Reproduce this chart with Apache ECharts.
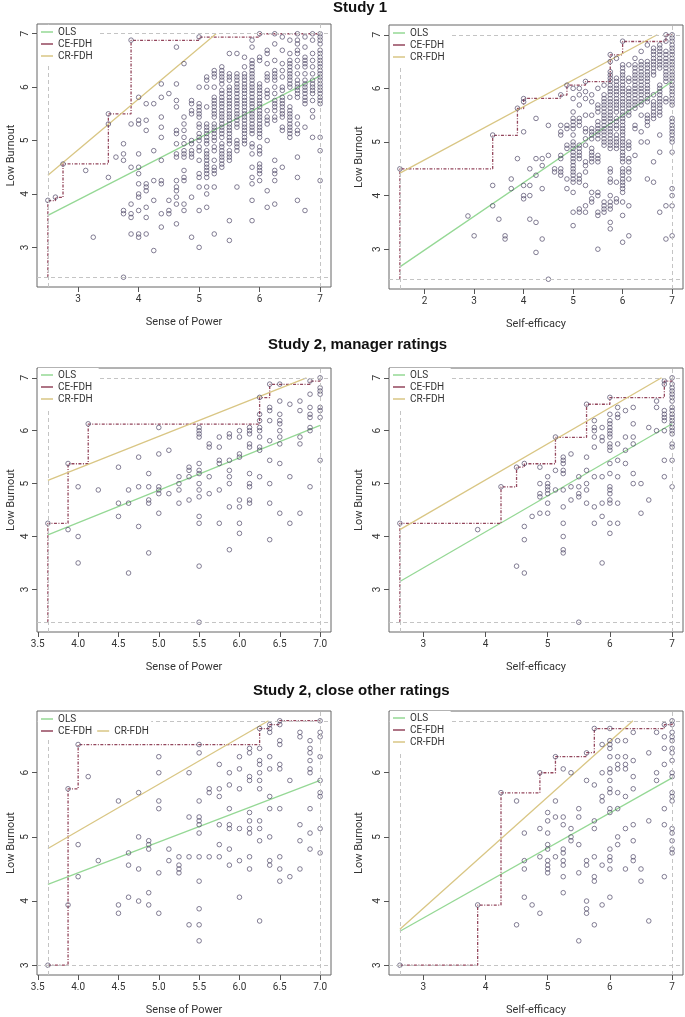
<!DOCTYPE html>
<html><head><meta charset="utf-8">
<script src="https://cdn.jsdelivr.net/npm/echarts@6/dist/echarts.min.js"></script>
<style>html,body{margin:0;padding:0;background:#fff}#c{width:685px;height:1017px}</style>
</head><body><div id="c"></div>
<script>
// ---------- data (columns: [x, [y values]]) ----------
const study1PowerCols = [
[2.5,[3.88]],[2.625,[3.94]],[2.75,[4.56]],[3.125,[4.44]],[3.25,[3.19]],
[3.5,[5.5,5.31,4.31]],[3.625,[4.69]],
[3.75,[4.94,4.75,4.63,3.69,3.63,2.44]],
[3.875,[6.88,5.31,4.5,3.81,3.63,3.56,3.25]],
[4,[5.81,5.38,5.31,4.75,4.5,4.38,4.19,4.0,3.94,3.69,3.25,3.19]],
[4.125,[5.69,5.38,5.19,4.19,4.13,4.06,3.75,3.56,3.25]],
[4.25,[5.69,4.81,4.25,3.88,2.94]],
[4.375,[6.06,5.81,5.44,5.25,5.06,4.63,4.25,4.19,3.63,3.38]],
[4.5,[5.88,3.88,3.69,3.63]],
[4.625,[6.75,6.06,5.75,5.63,5.19,5.13,4.94,4.75,4.69,4.25,4.13,4.06,3.94,3.81,3.44]],
[4.75,[6.44,5.44,5.31,5.19,5.06,4.94,4.81,4.75,4.69,4.44,4.31,4.25,3.81,3.69]],
[4.875,[5.75,5.69,5.56,5.5,5.0,4.94,4.81,4.75,4.69,3.94,3.19]],
[5,[6.94,6.0,5.69,5.63,5.56,5.5,5.44,5.31,5.25,5.13,5.06,5.0,4.88,4.81,4.63,4.38,4.31,4.13,3.69,3.0]],
[5.125,[6.19,6.13,6.0,5.63,5.31,5.25,5.19,5.13,5.06,5.0,4.94,4.81,4.75,4.69,4.63,4.56,4.5,4.44,4.38,4.31,4.13,4.0,3.75]],
[5.25,[6.31,6.25,6.19,6.0,5.81,5.75,5.69,5.63,5.56,5.5,5.44,5.31,5.25,5.19,5.13,5.06,5.0,4.88,4.81,4.63,4.5,4.44,4.38,4.13,3.25]],
[5.375,[6.38,6.31,6.25,6.19,6.13,6.06,5.94,5.88,5.81,5.75,5.69,5.63,5.56,5.5,5.44,5.38,5.31,5.25,5.19,5.13,5.06,4.94,4.88,4.81,4.75,4.69,4.63,4.56,4.5]],
[5.5,[6.63,6.25,6.19,6.13,6.0,5.94,5.88,5.81,5.75,5.69,5.63,5.56,5.5,5.44,5.38,5.31,5.25,5.19,5.13,5.06,5.0,4.94,4.81,4.75,4.69,4.63,3.5,3.13]],
[5.625,[6.63,6.25,6.19,6.13,6.06,6.0,5.94,5.88,5.81,5.75,5.69,5.63,5.56,5.5,5.44,5.38,5.31,5.25,5.0,4.94,4.88,4.81,4.13]],
[5.75,[6.56,6.38,6.25,6.19,6.13,6.06,6.0,5.94,5.88,5.81,5.75,5.69,5.63,5.56,5.5,5.44,5.38,5.31,5.25,5.19,5.13,5.06,5.0,4.94]],
[5.875,[6.88,6.75,6.5,6.44,6.38,6.31,6.25,6.19,6.13,6.06,6.0,5.94,5.88,5.81,5.75,5.69,5.63,5.56,5.5,5.44,5.38,5.31,5.25,5.19,5.13,4.94,4.88,4.75,4.5,4.31,4.19,3.88,3.5]],
[6,[7.0,6.56,6.5,6.06,6.0,5.94,5.88,5.81,5.75,5.69,5.63,5.56,5.5,5.44,5.38,5.31,5.25,5.19,5.13,5.06,4.88,4.81,4.75,4.56,4.5,4.44,4.38,4.25]],
[6.125,[6.69,6.63,6.44,6.25,6.19,6.13,5.94,5.88,5.81,5.56,5.44,5.38,5.31,5.0,4.06,3.75]],
[6.25,[7.0,6.81,6.5,6.31,6.25,6.19,6.13,6.0,5.88,5.75,5.69,5.63,5.56,5.44,5.38,4.63,4.44,4.38,4.25,3.81]],
[6.375,[6.94,6.69,6.44,6.31,6.19,6.0,5.94,5.81,5.75,5.69,5.63,5.56,5.5,5.44,5.25,5.19,4.5]],
[6.5,[6.88,6.63,6.5,6.44,6.38,6.31,6.25,6.19,6.13,6.06,6.0,5.81,5.63,5.56,5.5,5.44,5.38,5.31,5.25,5.19,5.13,5.06]],
[6.625,[7.0,6.88,6.81,6.69,6.63,6.5,6.38,6.25,6.13,6.06,6.0,5.94,5.88,5.81,5.44,5.31,5.19,5.13,4.69,4.31,3.88]],
[6.75,[6.94,6.75,6.56,6.5,6.44,6.38,6.25,6.13,6.06,6.0,5.94,5.88,5.81,5.75,5.69,5.25,3.69]],
[6.875,[7.0,6.88,6.63,6.5,6.38,6.25,6.13,6.06,6.0,5.94,5.88,5.75,5.56,5.44,5.06]],
[7,[7.0,6.94,6.88,6.81,6.69,6.63,6.56,6.5,6.44,6.38,6.31,6.25,6.19,6.13,6.06,6.0,5.94,5.88,5.81,5.75,5.69,5.06,4.81,4.25]]
];
const study1EfficacyCols = [
[1.5,[4.5]],[2.875,[3.62]],[3,[3.25]],[3.375,[5.13,4.19,3.81]],[3.5,[3.56]],[3.625,[3.25,3.19]],
[3.75,[4.31,4.13]],[3.875,[5.63,4.69]],[4,[5.81,5.75,5.19,4.19,4.0,3.94]],
[4.125,[4.5,4.19,4.0,3.56]],[4.25,[5.44,4.69,4.38,3.5,2.94]],[4.375,[4.69,4.56,4.13,3.19]],
[4.5,[5.31,4.75,2.44]],[4.625,[4.5,4.44]],
[4.75,[5.88,5.31,5.19,5.13,4.75,4.69,4.5,4.44,4.38]],
[4.875,[6.06,5.31,5.25,4.94,4.88,4.31,4.13]],
[5,[6.0,5.81,5.56,5.44,5.38,5.31,5.25,5.13,5.0,4.94,4.88,4.81,4.75,4.69,4.63,4.56,4.5,4.44,4.38,4.31,4.25,4.06,3.69,3.44]],
[5.125,[6.0,5.88,5.69,5.44,5.38,5.31,4.94,4.88,4.81,4.75,4.69,4.38,4.31,4.25,3.75,3.69]],
[5.25,[6.13,5.94,5.81,5.5,5.25,5.19,5.06,4.94,4.63,4.56,4.44,4.19,3.81,3.69]],
[5.375,[5.88,5.75,5.5,5.25,5.19,5.13,5.06,4.88,4.81,4.75,4.69,4.63,4.06,3.94,3.88]],
[5.5,[6.0,5.69,5.63,5.56,5.38,5.31,5.25,5.19,5.13,5.06,4.75,4.69,4.63,4.06,4.0,3.69,3.63,3.0]],
[5.625,[6.06,5.88,5.81,5.75,5.69,5.63,5.56,5.5,5.44,5.38,5.31,5.25,5.19,5.13,5.06,5.0,4.94,3.88,3.81,3.75,3.69]],
[5.75,[6.63,6.5,6.31,6.25,6.19,6.13,6.06,6.0,5.94,5.88,5.81,5.75,5.69,5.63,5.56,5.5,5.44,5.38,5.31,5.25,5.19,5.13,5.06,5.0,4.94,4.88,4.5,4.44,4.31,4.25,4.0,3.88,3.81,3.75,3.5,3.38]],
[5.875,[6.56,6.19,6.13,6.06,6.0,5.94,5.88,5.81,5.75,5.69,5.63,5.56,5.44,5.38,5.31,5.25,5.13,5.06,5.0,4.94,4.88,4.25,3.94,3.88]],
[6,[6.88,6.44,6.38,6.31,6.25,6.19,6.13,6.06,6.0,5.94,5.88,5.81,5.75,5.69,5.63,5.56,5.5,5.44,5.38,5.31,5.25,5.19,5.13,5.06,5.0,4.94,4.88,4.81,4.75,4.69,4.63,4.5,4.44,4.38,4.31,4.25,4.19,4.13,4.06,3.88,3.63,3.13]],
[6.125,[6.44,6.19,6.13,6.0,5.94,5.88,5.81,5.75,5.69,5.63,5.56,5.5,5.0,4.94,4.88,4.69,4.63,4.5,4.44,4.31,3.81,3.25]],
[6.25,[6.56,6.44,6.38,6.31,6.25,6.19,6.13,6.06,6.0,5.94,5.88,5.81,5.75,5.69,5.63,5.31,5.25,4.75]],
[6.375,[6.69,6.5,6.44,6.38,6.31,6.25,6.19,6.13,6.06,6.0,5.94,5.88,5.81,5.75,5.69,5.5,5.19,5.0]],
[6.5,[6.81,6.5,6.44,6.38,6.31,6.25,6.19,6.13,6.06,6.0,5.94,5.88,5.81,5.75,5.5,5.44,5.38,5.31,5.0,4.31]],
[6.625,[6.75,6.69,6.63,6.56,6.5,6.44,6.38,6.31,6.25,5.88,5.75,5.69,5.63,5.56,5.5,5.44,4.63,4.25]],
[6.75,[6.81,6.75,6.69,6.63,6.56,6.5,6.44,6.38,6.06,6.0,5.94,5.88,5.81,5.75,5.69,5.63,5.56,5.5,5.13,4.81,3.69]],
[6.875,[7.0,6.88,6.69,6.63,6.56,6.5,6.44,6.38,6.31,6.25,6.19,6.13,5.81,5.75,3.81,3.19]],
[7,[7.0,6.94,6.88,6.81,6.75,6.69,6.63,6.56,6.5,6.44,6.38,6.31,6.25,6.19,6.13,6.06,6.0,5.94,5.88,5.81,5.75,5.69,5.44,5.38,5.31,5.25,5.19,5.13,5.06,5.0,4.81,4.13,4.0,3.81,3.25]]
];
const study2mPowerCols = [
[3.625,[4.25]],[3.875,[5.38,4.13]],[4,[4.94,4.0,3.5]],[4.125,[6.13]],[4.25,[4.88]],
[4.5,[5.31,4.63,4.38]],[4.625,[4.88,4.63,3.31]],[4.75,[5.5,4.94,4.19]],
[4.875,[5.19,4.94,4.69,4.63,3.69]],[5,[6.06,5.56,4.94,4.88,4.81,4.44]],[5.125,[5.63,4.81]],
[5.25,[5.13,5.0,4.88,4.63]],[5.375,[5.31,5.25,5.13,4.69]],
[5.5,[6.06,6.0,5.94,5.88,5.38,5.25,5.19,5.0,4.88,4.75,4.38,4.25,3.44,2.38]],
[5.625,[5.75,5.69,5.13,4.81]],[5.75,[5.88,5.69,5.44,5.38,4.88,4.25]],
[5.875,[5.94,5.88,5.44,5.25,5.13,5.0,4.56,3.75]],
[6,[6.0,5.88,5.56,5.5,4.69,4.56,4.25,4.06]],
[6.125,[6.06,6.0,5.94,5.75,5.69,5.19,5.0,4.94,4.69,4.63]],
[6.25,[6.63,6.31,6.19,6.06,6.0,5.88,5.69,5.63,5.13]],
[6.375,[6.88,6.44,6.38,6.19,5.81,5.44,5.0,4.63,3.94]],
[6.5,[6.88,6.56,6.31,6.19,6.13,6.0,5.88,5.75,5.38,4.44]],
[6.625,[6.5,5.13,4.25]],[6.75,[6.56,6.38,5.88,5.75,4.44]],
[6.875,[6.94,6.69,6.44,6.31,6.25,6.06,6.0,4.94]],
[7,[7.0,6.81,6.75,6.69,6.44,6.38,6.25,5.44]]
];
const study2mEfficacyCols = [
[2.625,[4.25]],[3.875,[4.13]],[4.25,[4.94]],[4.5,[5.31,3.44]],[4.625,[5.38,4.19,3.94,3.31]],
[4.75,[4.38]],[4.875,[5.31,5.0,4.81,4.75,4.44]],[5,[5.13,5.0,4.94,4.88,4.81,4.63,4.44]],
[5.125,[5.88,5.25,4.88]],[5.25,[5.5,5.44,5.38,5.25,5.19,4.88,4.56,4.25,4.0,3.75,3.69]],
[5.375,[5.56,4.94,4.69]],[5.5,[5.13,4.94,4.81,4.75,2.38]],
[5.625,[6.5,5.5,5.25,5.0,4.88,4.63]],[5.75,[6.19,6.06,6.0,5.88,5.69,5.13,4.56,4.25]],
[5.875,[6.06,5.88,5.81,5.13,4.63,4.38,3.5]],
[6,[6.63,6.31,6.19,6.13,6.06,6.0,5.94,5.88,5.75,5.69,5.63,5.38,5.19,4.94,4.88,4.81,4.69,4.63,4.25,4.06]],
[6.125,[6.44,6.31,6.25,5.75,5.44,5.13,4.63,4.25]],[6.25,[6.38,5.88,5.63,5.38]],
[6.375,[6.44,6.13,5.88,5.75,5.19,5.0]],[6.5,[5.0,4.44]],[6.625,[6.06,4.69]],
[6.75,[6.56,6.44,6.0]],[6.875,[6.94,6.88,6.38,6.31,6.25,6.19,6.0,5.44,5.13]],
[7,[7.0,6.88,6.81,6.75,6.69,6.63,6.56,6.44,6.38,6.31,6.25,6.19,6.13,6.06,6.0,5.94,5.75,5.69,5.44,4.94]]
];
const study2cPowerCols = [
[3.625,[3.0]],[3.875,[5.75,3.94]],[4,[6.44,4.88,4.38]],[4.125,[5.94]],[4.25,[4.63]],
[4.5,[5.56,3.94,3.81]],[4.625,[4.75,4.56,4.06]],[4.75,[5.69,5.0,4.5,4.0]],
[4.875,[4.94,4.88,4.81,4.13,3.94]],[5,[6.25,6.0,5.56,5.44,4.44,3.81]],[5.125,[4.81,4.63]],
[5.25,[4.69,4.56,4.5,4.44]],[5.375,[6.0,5.31,4.69,3.63]],
[5.5,[6.44,6.31,5.56,5.31,5.25,5.19,5.06,4.69,4.31,3.88,3.63,3.38]],
[5.625,[5.75,5.69,4.69]],[5.75,[6.13,5.75,5.63,5.19,4.88,4.69]],
[5.875,[6.0,5.81,5.44,5.19,5.13,4.81,4.56]],[6,[6.25,6.06,5.75,5.13,4.63,4.06]],
[6.125,[6.38,6.31,5.94,5.88,5.38,5.25,5.13,5.06,4.69,4.5]],
[6.25,[6.69,6.38,6.19,6.13,6.0,5.88,5.75,5.25,5.13,4.94,3.69]],
[6.375,[6.75,6.69,6.63,6.25,6.06,5.63,5.44,5.0,4.63,4.56]],
[6.5,[6.81,6.75,6.5,6.44,6.13,6.06,5.44,4.69,4.5,4.31]],
[6.625,[5.88,4.38]],[6.75,[6.63,6.56,5.19,4.94,4.5]],
[6.875,[6.5,6.38,6.31,6.19,6.06,6.0,5.44,5.06,4.81]],
[7,[6.81,6.63,6.56,6.25,5.88,5.69,5.63,5.13,4.75]]
];
const study2cEfficacyCols = [
[2.625,[3.0]],[3.875,[3.94]],[4.25,[5.69]],[4.5,[5.56,3.63]],[4.625,[5.06,4.63,4.5,4.06]],
[4.75,[3.94]],[4.875,[6.0,5.13,4.69,3.81]],
[5,[5.38,5.25,5.06,4.88,4.81,4.63,4.56,4.5,4.44]],[5.125,[6.25,5.56,5.31,4.69]],
[5.25,[6.06,5.31,5.19,4.81,4.75,4.63,4.56,4.38,4.13]],[5.375,[6.0,5.13,5.0,4.94]],
[5.5,[5.44,5.31,4.88,4.44,3.38]],[5.625,[6.31,5.88,4.63,4.56,4.0,3.88,3.81]],
[5.75,[6.69,5.81,5.25,5.13,4.69,4.38,4.31,3.63]],[5.875,[6.44,6.0,5.63,5.56,4.56,3.94]],
[6,[6.69,6.5,6.44,6.38,6.25,6.06,6.0,5.88,5.75,5.69,5.44,5.38,4.81,4.69,4.63,4.5,4.06]],
[6.125,[6.5,6.25,6.13,6.06,5.69,5.44,5.0,4.88]],[6.25,[6.5,6.25,6.13,6.06,5.63,5.13,4.5]],
[6.375,[6.63,6.19,5.94,5.75,5.19,4.94,4.69,4.63]],[6.5,[4.5,4.31]],[6.625,[6.31,5.25,3.69]],
[6.75,[6.63,6.0,5.88]],[6.875,[6.75,6.56,6.38,6.13,5.44,5.19,4.38]],
[7,[6.81,6.75,6.63,6.56,6.5,6.38,6.31,6.19,6.0,5.94,5.69,5.63,5.56,5.13,5.06,4.94,4.81,4.75]]
];
// ceiling peers (CE-FDH step line)
const ceStudy1Power = [[2.5,3.875],[2.625,3.9375],[2.75,4.5625],[3.5,5.5],[3.875,6.875],[5,6.9375],[6,7],[7,7]];
const ceStudy1Efficacy = [[1.5,4.5],[3.375,5.125],[3.875,5.625],[4,5.8125],[4.75,5.875],[4.875,6.0625],[5.25,6.125],[5.75,6.625],[6,6.875],[6.875,7],[7,7]];
const ceStudy2mPower = [[3.625,4.25],[3.875,5.375],[4.125,6.125],[6.25,6.625],[6.375,6.875],[6.875,6.9375],[7,7]];
const ceStudy2mEfficacy = [[2.625,4.25],[4.25,4.9375],[4.5,5.3125],[4.625,5.375],[5.125,5.875],[5.625,6.5],[6,6.625],[6.875,6.9375],[7,7]];
const ceStudy2cPower = [[3.625,3],[3.875,5.75],[4,6.4375],[6.25,6.6875],[6.375,6.75],[6.5,6.8125],[7,6.8125]];
const ceStudy2cEfficacy = [[2.625,3],[3.875,3.9375],[4.25,5.6875],[4.875,6],[5.125,6.25],[5.625,6.3125],[5.75,6.6875],[6.875,6.75],[7,6.8125]];
// OLS line endpoints
const olsStudy1Power = [[2.5,3.6],[7,6.21]];
const olsStudy1Efficacy = [[1.5,2.67],[7,6.13]];
const olsStudy2mPower = [[3.625,4.03],[7,6.1]];
const olsStudy2mEfficacy = [[2.625,3.15],[7,6.13]];
const olsStudy2cPower = [[3.625,4.26],[7,5.88]];
const olsStudy2cEfficacy = [[2.625,3.53],[7,5.92]];
// CR-FDH line endpoints
const crStudy1Power = [[2.5,4.35],[5.28,7.0]];
const crStudy1Efficacy = [[1.5,4.42],[6.7,7.0]];
const crStudy2mPower = [[3.625,5.06],[6.83,7.0]];
const crStudy2mEfficacy = [[2.625,4.13],[6.83,7.0]];
const crStudy2cPower = [[3.625,4.82],[6.36,6.81]];
const crStudy2cEfficacy = [[2.625,3.56],[6.37,6.81]];
// tick labels
const xTicksInt = [3,4,5,6,7];
const xTicksS1Eff = [2,3,4,5,6,7];
const xTicksHalf = [3.5,4.0,4.5,5.0,5.5,6.0,6.5,7.0];
const yTicks = [3,4,5,6,7];
const yTicksClose = [3,4,5,6];
const titles = ['Study 1','Study 2, manager ratings','Study 2, close other ratings'];
const xNames = ['Sense of Power','Self-efficacy'];
const yName = 'Low Burnout';
const legendNames = ['OLS','CE-FDH','CR-FDH'];

// ---------- chart ----------
const FONT = 'Roboto, "Liberation Sans", Arial, sans-serif';
const flat = cols => { const out=[]; cols.forEach(c => c[1].forEach(y => out.push([c[0], y]))); return out; };
const panels = [
 {cols:study1PowerCols, ce:ceStudy1Power, ols:olsStudy1Power, cr:crStudy1Power, xt:xTicksInt, yt:yTicks, xName:xNames[0], dec:0, grid:{left:37,top:24,width:294,height:263}, right:false},
 {cols:study1EfficacyCols, ce:ceStudy1Efficacy, ols:olsStudy1Efficacy, cr:crStudy1Efficacy, xt:xTicksS1Eff, yt:yTicks, xName:xNames[1], dec:0, grid:{left:389,top:25,width:294,height:264}, right:true},
 {cols:study2mPowerCols, ce:ceStudy2mPower, ols:olsStudy2mPower, cr:crStudy2mPower, xt:xTicksHalf, yt:yTicks, xName:xNames[0], dec:1, grid:{left:37,top:368,width:294,height:264}, right:false},
 {cols:study2mEfficacyCols, ce:ceStudy2mEfficacy, ols:olsStudy2mEfficacy, cr:crStudy2mEfficacy, xt:xTicksInt, yt:yTicks, xName:xNames[1], dec:0, grid:{left:389,top:368,width:294,height:264}, right:true},
 {cols:study2cPowerCols, ce:ceStudy2cPower, ols:olsStudy2cPower, cr:crStudy2cPower, xt:xTicksHalf, yt:yTicksClose, xName:xNames[0], dec:1, grid:{left:37,top:711,width:294,height:264}, right:false},
 {cols:study2cEfficacyCols, ce:ceStudy2cEfficacy, ols:olsStudy2cEfficacy, cr:crStudy2cEfficacy, xt:xTicksInt, yt:yTicksClose, xName:xNames[1], dec:0, grid:{left:389,top:711,width:294,height:264}, right:true}
];

const COL = {ols:'#95d895', ce:'#93465c', cr:'#d9c684', pt:'#544d6b'};
const grids=[], xAxes=[], yAxes=[], series=[], legends=[];
const axisCommon = {
  type:'value', splitLine:{show:false}, axisLine:{show:false},
  axisTick:{show:true, inside:false, length:5, lineStyle:{color:'#555', width:1}}
};
panels.forEach((p,i) => {
  const pts = flat(p.cols);
  const xs = pts.map(d=>d[0]), ys = pts.map(d=>d[1]);
  const xmin=Math.min(...xs), xmax=Math.max(...xs), ymin=Math.min(...ys), ymax=Math.max(...ys);
  const xp=(xmax-xmin)*0.04, yp=(ymax-ymin)*0.04;
  grids.push(Object.assign({show:true, borderColor:'#666', borderWidth:1, backgroundColor:'#fff'}, p.grid));
  xAxes.push(Object.assign({}, axisCommon, {
    gridIndex:i, min:xmin-xp, max:xmax+xp,
    axisTick:Object.assign({}, axisCommon.axisTick, {customValues:p.xt}),
    axisLabel:{customValues:p.xt, margin:7, fontSize:10, color:'#333', fontFamily:FONT,
      formatter:v => p.dec ? Number(v).toFixed(1) : String(v)},
    name:p.xName, nameLocation:'middle', nameGap:30,
    nameTextStyle:{fontSize:11, color:'#333', fontFamily:FONT}
  }));
  yAxes.push(Object.assign({}, axisCommon, {
    gridIndex:i, min:ymin-yp, max:ymax+yp,
    axisTick:Object.assign({}, axisCommon.axisTick, {customValues:p.yt}),
    axisLabel:{customValues:p.yt, rotate:90, margin:7, fontSize:10, color:'#333', fontFamily:FONT},
    name:yName, nameLocation:'middle', nameGap: p.right ? 24 : 20,
    nameTextStyle:{fontSize:11, color:'#333', fontFamily:FONT}
  }));
  series.push({
    type:'scatter', xAxisIndex:i, yAxisIndex:i, data:pts, symbol:'circle', symbolSize:4.6,
    itemStyle:{color:'rgba(255,255,255,0)', borderColor:COL.pt, borderWidth:0.9}, z:4, silent:true,
    markLine:{silent:true, symbol:['none','none'], label:{show:false}, animation:false,
      lineStyle:{type:[4,3], color:'#c4c4c4', width:1},
      data:[{xAxis:xmin},{xAxis:xmax},{yAxis:ymin},{yAxis:ymax}]}
  });
  series.push({name:'OLS', type:'line', xAxisIndex:i, yAxisIndex:i, data:p.ols, symbol:'none', z:3,
    lineStyle:{color:COL.ols, width:1.3}, itemStyle:{color:COL.ols}});
  series.push({name:'CE-FDH', type:'line', step:'end', xAxisIndex:i, yAxisIndex:i,
    data:[[xmin,ymin]].concat(p.ce), symbol:'none', z:3,
    lineStyle:{color:COL.ce, width:1.3, type:[3,1.5,1,1.5]}, itemStyle:{color:COL.ce}});
  series.push({name:'CR-FDH', type:'line', xAxisIndex:i, yAxisIndex:i, data:p.cr, symbol:'none', z:3,
    lineStyle:{color:COL.cr, width:1.3}, itemStyle:{color:COL.cr}});
});

const legendBase = {selectedMode:false, icon:'rect', itemWidth:12, itemHeight:1.5, itemGap:0, backgroundColor:'#fff',
  textStyle:{fontSize:10, color:'#333', fontFamily:FONT, lineHeight:12}, z:10};
[[38,25],[390,26],[38,368],[390,368],null,[390,711]].forEach(pos => {
  if(!pos) return;
  legends.push(Object.assign({}, legendBase, {orient:'vertical', left:pos[0], top:pos[1], padding:[1,6,3,3], data:legendNames}));
});
legends.push(Object.assign({}, legendBase, {orient:'vertical', left:38, top:712, padding:[1,75,0,3], data:[legendNames[0]]}));
legends.push(Object.assign({}, legendBase, {orient:'horizontal', left:38, top:725, itemGap:5, padding:[0,6,2,3], data:[legendNames[1],legendNames[2]]}));

const titleTops=[0,337,683], titleLefts=[333,268,253];
const chart = echarts.init(document.getElementById('c'), null, {renderer:'canvas'});
chart.setOption({
  animation:false, backgroundColor:'#fff',
  title: titles.map((t,k)=>({text:t, left:titleLefts[k], top:titleTops[k], padding:0,
    textStyle:{fontSize:15, fontWeight:'bold', color:'#111', fontFamily:'"Liberation Sans", Arial, sans-serif'}})),
  legend:legends, grid:grids, xAxis:xAxes, yAxis:yAxes, series:series
});
</script></body></html>
